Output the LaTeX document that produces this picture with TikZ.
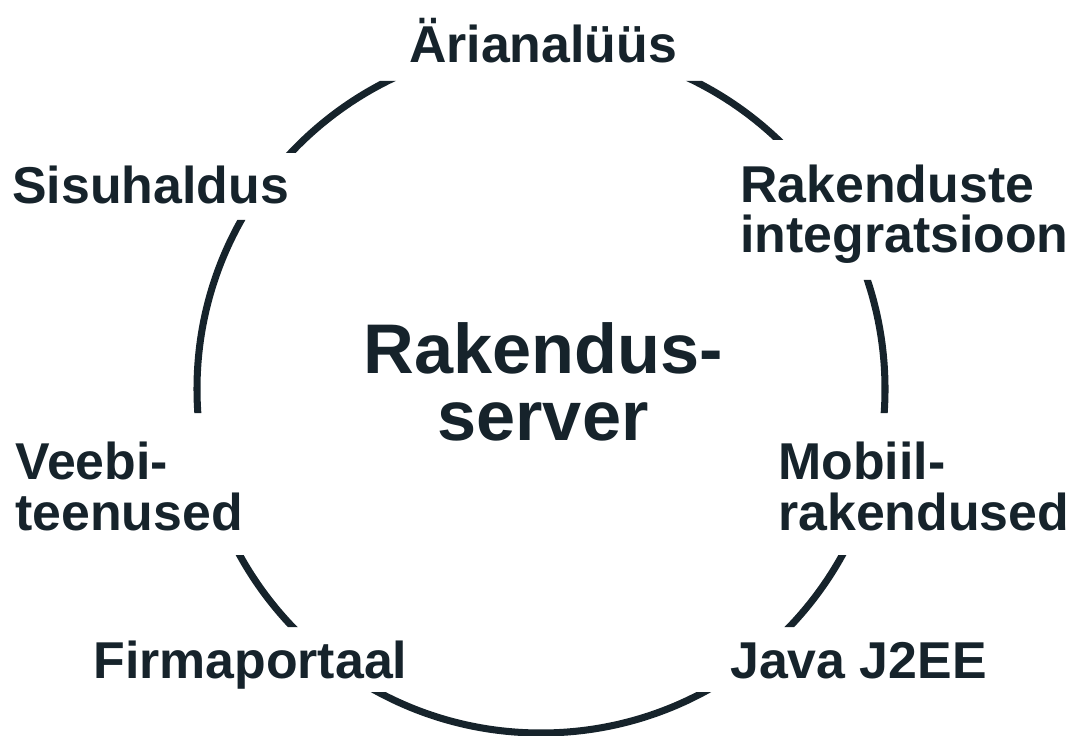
\documentclass[tikz,border=0pt]{standalone}
\usepackage{fontspec}
\setmainfont{Liberation Sans}
\definecolor{ink}{RGB}{22,35,43}

\begin{document}
\begin{tikzpicture}[x=0.02cm,y=-0.02cm,
    lbl/.style={font=\fontsize{29.5}{28.5}\selectfont\bfseries, text=ink, inner sep=0pt, align=left},
    ctr/.style={font=\fontsize{40}{38}\selectfont\bfseries, text=ink, inner sep=0pt, align=center}]
    \useasboundingbox (0,0) rectangle (1078,736);

    % ring, cut open where the labels sit
    \begin{scope}
        \clip (0,81) rectangle (541,153)
              (0,220) rectangle (541,413)
              (0,555) rectangle (541,627)
              (541,81) rectangle (1078,140)
              (541,280) rectangle (1078,413)
              (541,555) rectangle (1078,627)
              (0,692) rectangle (1078,740);
        \draw[ink, line width=4pt] (541,389) circle (344);
    \end{scope}

    \node[ctr, anchor=base] (server) at (543,440) {Rakendus-\\server};

    \node[lbl, anchor=base] (arian) at (543,63) {Ärianalüüs};
    \node[lbl, anchor=base west] (sisu) at (12,204) {Sisuhaldus};
    \node[lbl, anchor=base west] (integ) at (740,253) {Rakenduste\\integratsioon};
    \node[lbl, anchor=base west] (veeb) at (15,530) {Veebi-\\teenused};
    \node[lbl, anchor=base west] (mobi) at (778,530) {Mobiil-\\rakendused};
    \node[lbl, anchor=base west] (firma) at (93,678) {Firmaportaal};
    \node[lbl, anchor=base west] (java) at (730,678) {Java J2EE};
\end{tikzpicture}
\end{document}
